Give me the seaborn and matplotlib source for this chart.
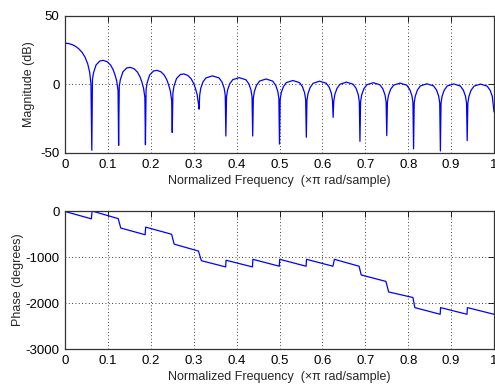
import matplotlib
matplotlib.use("Agg")
import matplotlib.pyplot as plt
import pandas as pd
import seaborn as sns

# magnitude response, read lobe by lobe (normalized freq, dB)
mag_freq = [
    0, 0.008, 0.016, 0.024, 0.032, 0.040, 0.047, 0.053, 0.0575, 0.0605, 0.0625,
    0.064, 0.0665, 0.0725, 0.0815, 0.0895, 0.0985, 0.1065, 0.1125, 0.1165, 0.1205, 0.1237, 0.125,
    0.1265, 0.129, 0.135, 0.144, 0.152, 0.161, 0.169, 0.175, 0.179, 0.183, 0.1862, 0.1875,
    0.189, 0.1915, 0.1975, 0.2065, 0.2145, 0.2235, 0.2315, 0.2375, 0.2415, 0.2455, 0.2487, 0.25,
    0.2515, 0.254, 0.260, 0.269, 0.277, 0.286, 0.294, 0.300, 0.304, 0.308, 0.3112, 0.3125,
    0.314, 0.3165, 0.3215, 0.3285, 0.3435, 0.359, 0.366, 0.371, 0.3735, 0.375,
    0.3765, 0.379, 0.384, 0.391, 0.406, 0.4215, 0.4285, 0.4335, 0.436, 0.4375,
    0.439, 0.4415, 0.4465, 0.4535, 0.4685, 0.484, 0.491, 0.496, 0.4985, 0.5,
    0.5015, 0.504, 0.509, 0.516, 0.531, 0.5465, 0.5535, 0.5585, 0.561, 0.5625,
    0.564, 0.5665, 0.5715, 0.5785, 0.5935, 0.609, 0.616, 0.621, 0.6235, 0.625,
    0.6265, 0.629, 0.634, 0.641, 0.656, 0.6715, 0.6785, 0.6835, 0.686, 0.6875,
    0.689, 0.6915, 0.6965, 0.7035, 0.7185, 0.734, 0.741, 0.746, 0.7485, 0.75,
    0.7515, 0.754, 0.759, 0.766, 0.781, 0.7965, 0.8035, 0.8085, 0.811, 0.8125,
    0.814, 0.8165, 0.8215, 0.8285, 0.8435, 0.859, 0.866, 0.871, 0.8735, 0.875,
    0.8765, 0.879, 0.884, 0.891, 0.906, 0.9215, 0.9285, 0.9335, 0.936, 0.9375,
    0.939, 0.9415, 0.9465, 0.9535, 0.9685, 0.984, 0.991, 0.996, 1.0,
]
mag_db = [
    30.1, 29.9, 29.2, 28.0, 26.1, 23.4, 19.8, 15.0, 9.0, 0.5, -48.0,
    3.6, 8.6, 14.3, 17.2, 17.6, 16.6, 14.1, 10.6, 7.1, 2.6, -4.4, -44.5,
    -1.5, 3.5, 9.2, 12.1, 12.5, 11.5, 9.0, 5.5, 2.0, -2.5, -9.5, -44.0,
    -3.7, 1.3, 7.0, 9.9, 10.3, 9.3, 6.8, 3.3, -0.2, -4.7, -11.7, -35.0,
    -6.3, -1.3, 4.4, 7.3, 7.7, 6.7, 4.2, 0.7, -2.8, -7.3, -14.3, -18.0,
    -7.7, -2.7, 1.8, 4.8, 6.3, 4.8, 1.8, -2.7, -7.7, -37.6,
    -9.0, -4.0, 0.5, 3.5, 5.0, 3.5, 0.5, -4.0, -9.0, -37.6,
    -10.0, -5.0, -0.5, 2.5, 4.0, 2.5, -0.5, -5.0, -10.0, -43.5,
    -11.1, -6.1, -1.6, 1.4, 2.9, 1.4, -1.6, -6.1, -11.1, -38.5,
    -11.6, -6.6, -2.1, 0.9, 2.4, 0.9, -2.1, -6.6, -11.6, -24.0,
    -12.3, -7.3, -2.8, 0.2, 1.7, 0.2, -2.8, -7.3, -12.3, -41.5,
    -12.7, -7.7, -3.2, -0.2, 1.3, -0.2, -3.2, -7.7, -12.7, -37.3,
    -13.0, -8.0, -3.5, -0.5, 1.0, -0.5, -3.5, -8.0, -13.0, -47.0,
    -13.5, -8.5, -4.0, -1.0, 0.5, -1.0, -4.0, -8.5, -13.5, -48.5,
    -13.6, -8.6, -4.1, -1.1, 0.4, -1.1, -4.1, -8.6, -13.6, -41.0,
    -13.7, -8.7, -4.2, -1.2, 0.3, -1.2, -4.2, -8.7, -20.0,
]

# unwrapped phase (normalized freq, degrees)
phase_freq = [
    0, 0.0615, 0.0632, 0.124, 0.1265, 0.130, 0.1868, 0.188,
    0.2485, 0.2545, 0.311, 0.318, 0.3745, 0.3755, 0.437, 0.438,
    0.4995, 0.5005, 0.562, 0.563, 0.6245, 0.628, 0.6855, 0.6905,
    0.748, 0.7545, 0.811, 0.8155, 0.8745, 0.8755, 0.937, 0.938, 1.0,
]
phase_deg = [
    -10, -170, 0, -165, -250, -370, -515, -350,
    -505, -720, -870, -1080, -1215, -1070, -1215, -1050,
    -1200, -1050, -1200, -1050, -1200, -1050, -1200, -1390,
    -1530, -1760, -1880, -2100, -2245, -2100, -2245, -2100, -2245,
]

x_ticks = [0, 0.1, 0.2, 0.3, 0.4, 0.5, 0.6, 0.7, 0.8, 0.9, 1]
x_tick_labels = ["0", "0.1", "0.2", "0.3", "0.4", "0.5", "0.6", "0.7", "0.8", "0.9", "1"]
mag_ticks = [-50, 0, 50]
phase_ticks = [-3000, -2000, -1000, 0]
x_label = "Normalized Frequency  (\u00d7\u03c0 rad/sample)"

sns.set_style("white")
plt.rcParams["font.family"] = ["Liberation Sans", "DejaVu Sans"]
plt.rcParams["axes.unicode_minus"] = False
plt.rcParams["font.size"] = 9

fig = plt.figure(figsize=(4.95, 3.9), dpi=100)
ax_mag = fig.add_axes([0.1313, 0.6077, 0.8667, 0.3513])
ax_ph = fig.add_axes([0.1313, 0.1051, 0.8667, 0.3538])

mag_df = pd.DataFrame({"freq": mag_freq, "mag": mag_db})
ph_df = pd.DataFrame({"freq": phase_freq, "phase": phase_deg})

sns.lineplot(data=mag_df, x="freq", y="mag", ax=ax_mag, color="#0000ff",
             linewidth=0.9, sort=False, estimator=None)
sns.lineplot(data=ph_df, x="freq", y="phase", ax=ax_ph, color="#0000ff",
             linewidth=0.9, sort=False, estimator=None)

for ax, yt in ((ax_mag, mag_ticks), (ax_ph, phase_ticks)):
    ax.set_xlim(0, 1)
    ax.set_ylim(yt[0], yt[-1])
    ax.set_xticks(x_ticks)
    ax.set_xticklabels(x_tick_labels)
    ax.set_yticks(yt)
    ax.set_yticklabels([str(v) for v in yt])
    ax.grid(True, linestyle=(0, (1, 3)), color="black", linewidth=0.6)
    ax.tick_params(direction="in", length=4, width=0.6, top=True, right=True,
                   labelsize=9.5, pad=4, colors="black")
    for sp in ax.spines.values():
        sp.set_visible(True)
        sp.set_color("#333333")
        sp.set_linewidth(0.9)
    ax.set_xlabel(x_label, fontsize=9, labelpad=3)

ax_mag.set_ylabel("Magnitude (dB)", fontsize=9, labelpad=4)
ax_ph.set_ylabel("Phase (degrees)", fontsize=9, labelpad=1)

fig.savefig("out.png", dpi=100)
plt.close(fig)
